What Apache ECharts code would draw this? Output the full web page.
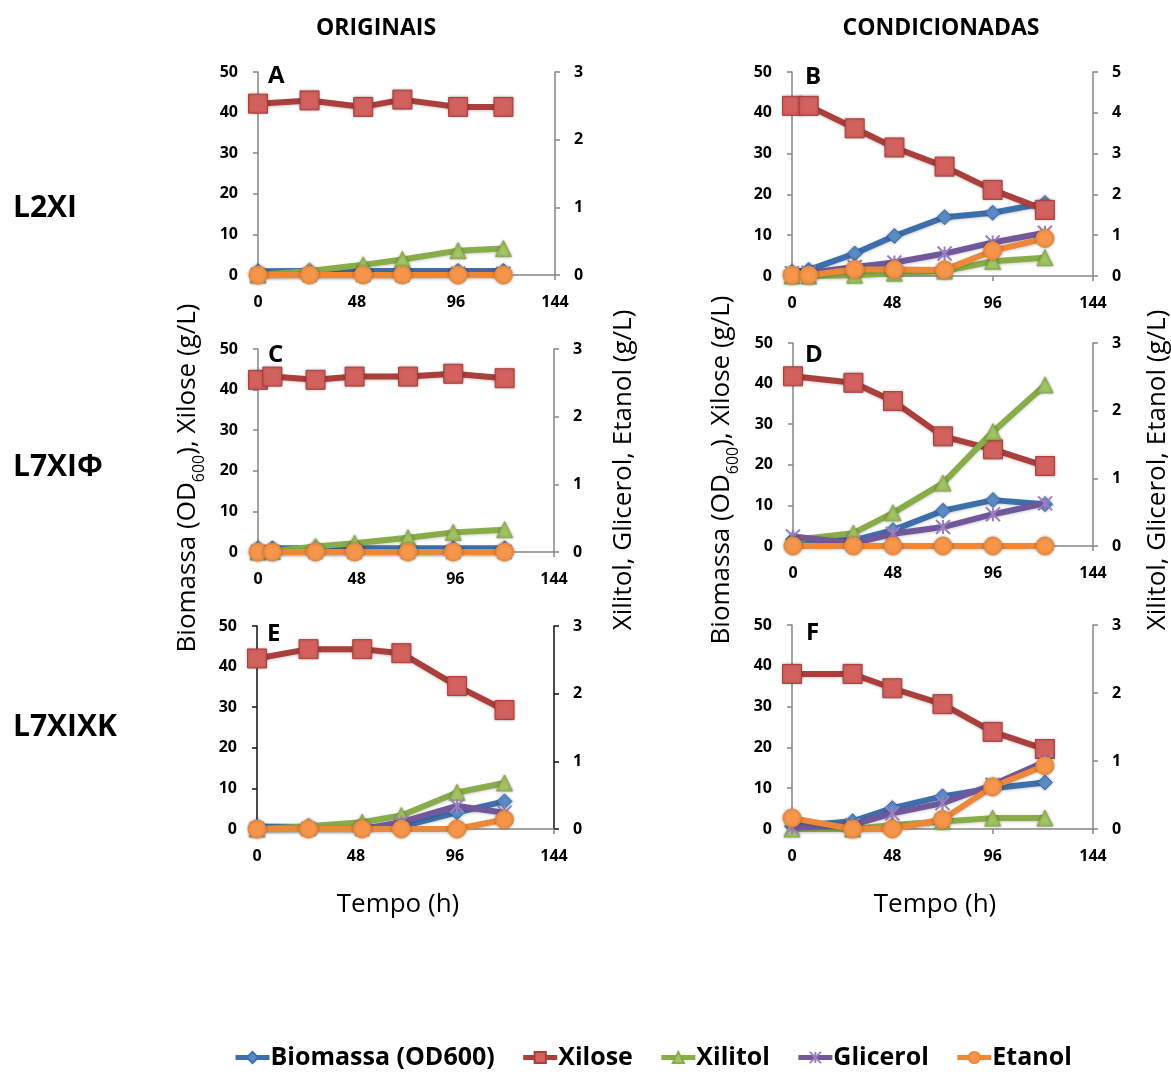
<!DOCTYPE html>
<html>
<head>
<meta charset="utf-8">
<script src="https://cdn.jsdelivr.net/npm/echarts@6/dist/echarts.min.js"></script>
<style>
html,body{margin:0;padding:0;background:#fff;}
#chart{width:1171px;height:1072px;}
</style>
</head>
<body>
<div id="chart"></div>
<script>
// ---- Data ----
const seriesNames = ['Biomassa (OD600)', 'Xilose', 'Xilitol', 'Glicerol', 'Etanol'];
const xTicks = [0, 48, 96, 144];
const leftTicks = [0, 10, 20, 30, 40, 50];
const rightTicks3 = [0, 1, 2, 3];
const rightTicks5 = [0, 1, 2, 3, 4, 5];
const columnTitles = ['ORIGINAIS', 'CONDICIONADAS'];
const rowTitles = ['L2XI', 'L7XIΦ', 'L7XIXK'];
const panelLetters = ['A', 'B', 'C', 'D', 'E', 'F'];

// Panel A
const hoursA = [0, 25, 51, 70, 97, 119];
const biomassaA = [0.9, 1.0, 1.0, 1.0, 1.0, 1.0];
const xiloseA = [42.2, 43.0, 41.4, 43.2, 41.4, 41.4];
const xilitolA = [0, 0.06, 0.15, 0.23, 0.36, 0.39];
const glicerolA = [0, 0, 0, 0, 0.02, 0.02];
const etanolA = [0, 0, 0, 0, 0, 0];

// Panel B
const hoursB = [0, 8, 30, 49, 73, 96, 121];
const biomassaB = [1.0, 1.5, 5.5, 9.8, 14.4, 15.5, 17.9];
const xiloseB = [41.7, 41.7, 36.2, 31.5, 26.8, 21.1, 16.2];
const xilitolB = [0, 0, 0.02, 0.07, 0.12, 0.36, 0.45];
const glicerolB = [0.07, 0.08, 0.22, 0.33, 0.55, 0.82, 1.06];
const etanolB = [0.02, 0.02, 0.16, 0.16, 0.15, 0.62, 0.92];

// Panel C
const hoursC = [0, 7, 28, 47, 73, 95, 120];
const biomassaC = [0.9, 0.9, 0.9, 0.9, 0.9, 0.9, 0.9];
const xiloseC = [42.4, 43.2, 42.4, 43.2, 43.2, 43.9, 42.8];
const xilitolC = [0, 0.01, 0.08, 0.13, 0.21, 0.29, 0.33];
const glicerolC = [0, 0, 0, 0, 0, 0, 0];
const etanolC = [0, 0, 0, 0, 0, 0, 0];

// Panel D
const hoursD = [0, 29, 48, 72, 96, 121];
const biomassaD = [1.6, 1.4, 3.9, 8.7, 11.3, 10.3];
const xiloseD = [41.8, 40.2, 35.7, 27.0, 23.8, 19.7];
const xilitolD = [0.09, 0.19, 0.49, 0.93, 1.69, 2.38];
const glicerolD = [0.14, 0.04, 0.18, 0.28, 0.47, 0.63];
const etanolD = [0, 0, 0, 0, 0, 0];

// Panel E
const hoursE = [0, 25, 51, 70, 97, 120];
const biomassaE = [0.6, 0.5, 0.3, 0.6, 4.1, 6.8];
const xiloseE = [42.0, 44.3, 44.3, 43.3, 35.2, 29.3];
const xilitolE = [0, 0.04, 0.1, 0.2, 0.54, 0.68];
const glicerolE = [0, 0, 0, 0.1, 0.34, 0.24];
const etanolE = [0, 0, 0, 0, 0, 0.14];

// Panel F
const hoursF = [0, 29, 48, 72, 96, 121];
const biomassaF = [0.7, 1.9, 5.1, 8.0, 10.0, 11.4];
const xiloseF = [38.0, 38.0, 34.5, 30.6, 23.8, 19.6];
const xilitolF = [0, 0, 0.06, 0.11, 0.16, 0.16];
const glicerolF = [0.02, 0.06, 0.23, 0.38, 0.65, 0.99];
const etanolF = [0.16, 0, 0, 0.14, 0.62, 0.93];

// ---- Layout / styles ----
const FONT = '"Open Sans", Lato, sans-serif';
const panels = [
  {hours: hoursA, vals: [biomassaA, xiloseA, xilitolA, glicerolA, etanolA], rightTicks: rightTicks3, grid: {left: 258, top: 72, width: 297, height: 203}, axisColor: '#868686'},
  {hours: hoursB, vals: [biomassaB, xiloseB, xilitolB, glicerolB, etanolB], rightTicks: rightTicks5, grid: {left: 792, top: 72, width: 301, height: 204}, axisColor: '#868686'},
  {hours: hoursC, vals: [biomassaC, xiloseC, xilitolC, glicerolC, etanolC], rightTicks: rightTicks3, grid: {left: 258, top: 349, width: 296, height: 203}, axisColor: '#868686'},
  {hours: hoursD, vals: [biomassaD, xiloseD, xilitolD, glicerolD, etanolD], rightTicks: rightTicks3, grid: {left: 793, top: 343, width: 300, height: 203}, axisColor: '#868686'},
  {hours: hoursE, vals: [biomassaE, xiloseE, xilitolE, glicerolE, etanolE], rightTicks: rightTicks3, grid: {left: 257, top: 626, width: 297, height: 203}, axisColor: '#111111'},
  {hours: hoursF, vals: [biomassaF, xiloseF, xilitolF, glicerolF, etanolF], rightTicks: rightTicks3, grid: {left: 792, top: 625, width: 301, height: 204}, axisColor: '#868686'}
];

const styles = [
  {symbol: 'diamond', size: 15, line: '#3e6fad', fill: '#5b8cc8', axis: 0},
  {symbol: 'rect', size: 19, line: '#aa3f3c', fill: '#d3625f', axis: 0},
  {symbol: 'triangle', size: 16, line: '#88ac48', fill: '#a2c463', axis: 1},
  {symbol: 'path://M0,0L10,10M10,0L0,10M5,0L5,10', size: 14, line: '#71589a', fill: '#9a80c0', axis: 1, stroke: true},
  {symbol: 'circle', size: 18, line: '#ec8838', fill: '#f7964a', axis: 1}
];

const labelStyle = {color: '#000', fontWeight: 'bold', fontSize: 16, fontFamily: FONT};

const grids = [], xAxes = [], yAxes = [], series = [];
panels.forEach((p, i) => {
  grids.push(Object.assign({containLabel: false}, p.grid));
  const axLine = {show: true, onZero: false, lineStyle: {color: '#868686', width: 1.5}};
  xAxes.push({
    gridIndex: i, type: 'value', min: xTicks[0], max: xTicks[xTicks.length - 1], interval: xTicks[1] - xTicks[0],
    axisLine: axLine, axisTick: {show: true, length: 5, lineStyle: {color: '#868686', width: 1.5}},
    axisLabel: Object.assign({margin: 19}, labelStyle), splitLine: {show: false}
  });
  const yLine = {show: true, lineStyle: {color: p.axisColor, width: 1.5}};
  yAxes.push({
    gridIndex: i, type: 'value', position: 'left', min: leftTicks[0], max: leftTicks[leftTicks.length - 1], interval: leftTicks[1] - leftTicks[0],
    axisLine: yLine, axisTick: {show: true, length: 5, lineStyle: {color: p.axisColor, width: 1.5}},
    axisLabel: Object.assign({margin: 20}, labelStyle), splitLine: {show: false}
  });
  yAxes.push({
    gridIndex: i, type: 'value', position: 'right', min: p.rightTicks[0], max: p.rightTicks[p.rightTicks.length - 1], interval: p.rightTicks[1] - p.rightTicks[0],
    axisLine: yLine, axisTick: {show: true, length: 5, lineStyle: {color: p.axisColor, width: 1.5}},
    axisLabel: Object.assign({margin: 19}, labelStyle), splitLine: {show: false}
  });
  styles.forEach((s, k) => {
    series.push({
      name: seriesNames[k], type: 'line', xAxisIndex: i, yAxisIndex: 2 * i + s.axis,
      data: p.hours.map((h, j) => [h, p.vals[k][j]]),
      symbol: s.symbol, symbolSize: s.size, symbolKeepAspect: true, clip: false,
      lineStyle: {color: s.line, width: 6, shadowColor: 'rgba(0,0,0,0.2)', shadowBlur: 3, shadowOffsetY: 1},
      itemStyle: s.stroke
        ? {color: 'rgba(0,0,0,0)', borderColor: s.fill, borderWidth: 2}
        : {color: s.fill, borderColor: s.line, borderWidth: 1, shadowColor: 'rgba(0,0,0,0.3)', shadowBlur: 3},
      z: 2 + k
    });
  });
});

const graphics = [];
// column titles
[[376, columnTitles[0]], [941, columnTitles[1]]].forEach(([cx, t]) => {
  graphics.push({type: 'text', x: cx, y: 28, style: {text: t, align: 'center', verticalAlign: 'middle', textAlign: 'center', textVerticalAlign: 'middle', font: 'bold 23px ' + FONT, fill: '#000'}});
});
// row titles
[208, 467, 727].forEach((cy, r) => {
  graphics.push({type: 'text', x: 13, y: cy, style: {text: rowTitles[r], align: 'left', verticalAlign: 'middle', textAlign: 'left', textVerticalAlign: 'middle', font: 'bold 30px ' + FONT, fill: '#000'}});
});
// panel letters
[[268, 76], [805, 77], [268, 355], [805, 355], [267, 634], [806, 633]].forEach(([x, y], i) => {
  graphics.push({type: 'text', x: x, y: y, style: {text: panelLetters[i], align: 'left', verticalAlign: 'middle', textAlign: 'left', textVerticalAlign: 'middle', font: 'bold 24px ' + FONT, fill: '#000'}});
});
// rotated axis titles
const richStyle = {
  a: {fontSize: 26, fontFamily: FONT, fill: '#000', color: '#000'},
  s: {fontSize: 16, fontFamily: FONT, fill: '#000', color: '#000', verticalAlign: 'bottom', padding: [0, 0, -6, 0]}
};
[[188, 478], [722, 470]].forEach(([cx, cy]) => {
  graphics.push({type: 'text', x: cx, y: cy, rotation: Math.PI / 2, style: {
    text: '{a|Biomassa (OD}{s|600}{a|), Xilose (g/L)}', rich: richStyle,
    align: 'center', verticalAlign: 'middle', textAlign: 'center', textVerticalAlign: 'middle', fill: '#000'}});
});
[[624, 470], [1158, 470]].forEach(([cx, cy]) => {
  graphics.push({type: 'text', x: cx, y: cy, rotation: Math.PI / 2, style: {
    text: 'Xilitol, Glicerol, Etanol (g/L)', font: '26px ' + FONT,
    align: 'center', verticalAlign: 'middle', textAlign: 'center', textVerticalAlign: 'middle', fill: '#000'}});
});
// x titles
[[398, 905], [935, 905]].forEach(([cx, cy]) => {
  graphics.push({type: 'text', x: cx, y: cy, style: {text: 'Tempo (h)', font: '26px ' + FONT, align: 'center', verticalAlign: 'middle', textAlign: 'center', textVerticalAlign: 'middle', fill: '#000'}});
});

const chart = echarts.init(document.getElementById('chart'), null, {renderer: 'canvas'});
chart.setOption({
  animation: false,
  backgroundColor: '#fff',
  grid: grids, xAxis: xAxes, yAxis: yAxes, series: series,
  legend: {
    data: seriesNames, left: 228, top: 1040, itemWidth: 34, itemHeight: 14, itemGap: 26,
    lineStyle: {width: 5},
    textStyle: {color: '#000', fontWeight: 'bold', fontSize: 25, fontFamily: FONT, padding: [0, 0, 0, -4]}
  },
  graphic: graphics
});
</script>
</body>
</html>
